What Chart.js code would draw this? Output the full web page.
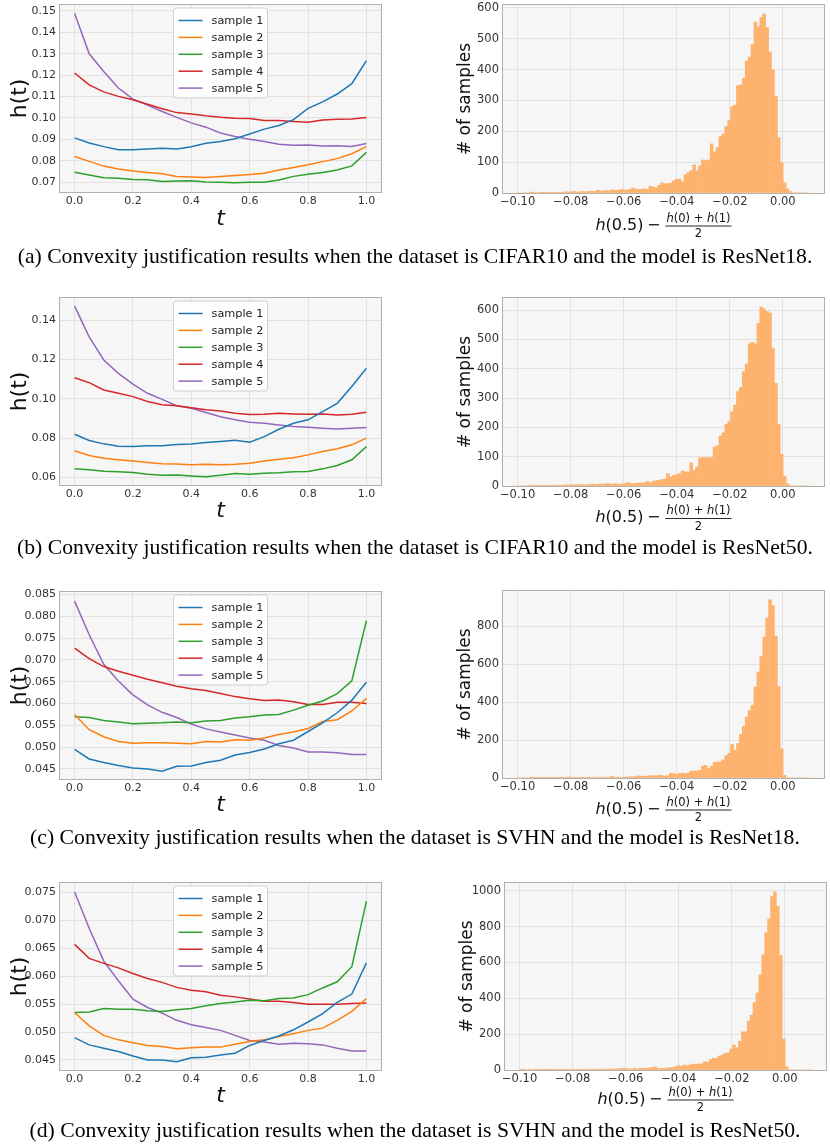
<!DOCTYPE html>
<html><head><meta charset="utf-8">
<script src="https://cdn.jsdelivr.net/npm/chart.js@4.4.1/dist/chart.umd.min.js"></script>
<style>
html,body{margin:0;padding:0;background:#fff;}
body{width:830px;height:1148px;position:relative;overflow:hidden;}
canvas{position:absolute;}
.cap{position:absolute;left:0;width:830px;text-align:center;font-family:"Liberation Serif",serif;color:#000;white-space:nowrap;line-height:1;}
</style></head><body>
<script>
// ---------------- DATA ----------------
const T_VALUES = [0,0.05,0.1,0.15,0.2,0.25,0.3,0.35,0.4,0.45,0.5,0.55,0.6,0.65,0.7,0.75,0.8,0.85,0.9,0.95,1.0];
const SAMPLE_NAMES = ['sample 1','sample 2','sample 3','sample 4','sample 5'];

// (a) CIFAR10 / ResNet18
const A_S1 = [0.0907,0.0883,0.0866,0.0852,0.0852,0.0855,0.0858,0.0855,0.0866,0.0882,0.0890,0.0903,0.0925,0.0948,0.0965,0.0992,0.1045,0.1075,0.1112,0.1160,0.1268];
const A_S2 = [0.0820,0.0797,0.0775,0.0762,0.0752,0.0745,0.0739,0.0727,0.0724,0.0722,0.0726,0.0731,0.0736,0.0742,0.0757,0.0769,0.0781,0.0796,0.0810,0.0833,0.0866];
const A_S3 = [0.0746,0.0733,0.0721,0.0718,0.0713,0.0711,0.0703,0.0705,0.0706,0.0701,0.0699,0.0697,0.0699,0.0700,0.0710,0.0727,0.0737,0.0745,0.0757,0.0776,0.0839];
const A_S4 = [0.1210,0.1155,0.1122,0.1101,0.1085,0.1064,0.1043,0.1025,0.1019,0.1010,0.1003,0.0999,0.0998,0.0988,0.0988,0.0984,0.0980,0.0991,0.0994,0.0995,0.1002];
const A_S5 = [0.1490,0.1300,0.1217,0.1140,0.1088,0.1060,0.1030,0.1003,0.0977,0.0957,0.0930,0.0913,0.0900,0.0890,0.0877,0.0873,0.0874,0.0869,0.0870,0.0867,0.0881];
// (b) CIFAR10 / ResNet50
const B_S1 = [0.0820,0.0788,0.0771,0.0759,0.0757,0.0762,0.0762,0.0768,0.0770,0.0778,0.0783,0.0789,0.0779,0.0808,0.0845,0.0876,0.0893,0.0935,0.0977,0.1062,0.1155];
const B_S2 = [0.0736,0.0712,0.0698,0.0690,0.0684,0.0676,0.0670,0.0669,0.0665,0.0668,0.0665,0.0668,0.0673,0.0684,0.0693,0.0701,0.0715,0.0732,0.0746,0.0766,0.0800];
const B_S3 = [0.0645,0.0640,0.0632,0.0629,0.0625,0.0617,0.0612,0.0613,0.0608,0.0604,0.0612,0.0620,0.0617,0.0622,0.0624,0.0629,0.0631,0.0644,0.0661,0.0690,0.0757];
const B_S4 = [0.1107,0.1082,0.1045,0.1028,0.1011,0.0986,0.0970,0.0965,0.0955,0.0944,0.0938,0.0926,0.0920,0.0921,0.0926,0.0923,0.0921,0.0923,0.0917,0.0921,0.0932];
const B_S5 = [0.1471,0.1315,0.1197,0.1129,0.1074,0.1028,0.0997,0.0965,0.0952,0.0930,0.0909,0.0893,0.0881,0.0876,0.0867,0.0859,0.0855,0.0850,0.0846,0.0850,0.0854];
// (c) SVHN / ResNet18
const C_S1 = [0.0495,0.0473,0.0465,0.0458,0.0452,0.0450,0.0445,0.0456,0.0457,0.0465,0.0470,0.0482,0.0488,0.0496,0.0508,0.0516,0.0536,0.0556,0.0579,0.0608,0.0649];
const C_S2 = [0.0575,0.0540,0.0524,0.0513,0.0509,0.0510,0.0510,0.0509,0.0508,0.0513,0.0512,0.0517,0.0516,0.0521,0.0529,0.0535,0.0543,0.0559,0.0563,0.0583,0.0612];
const C_S3 = [0.0570,0.0568,0.0561,0.0558,0.0554,0.0555,0.0556,0.0558,0.0556,0.0560,0.0561,0.0567,0.0570,0.0574,0.0575,0.0585,0.0596,0.0606,0.0623,0.0652,0.0790];
const C_S4 = [0.0727,0.0703,0.0685,0.0674,0.0665,0.0656,0.0648,0.0640,0.0634,0.0630,0.0623,0.0616,0.0611,0.0607,0.0608,0.0604,0.0598,0.0598,0.0603,0.0603,0.0600];
const C_S5 = [0.0835,0.0758,0.0690,0.0652,0.0620,0.0597,0.0580,0.0568,0.0553,0.0542,0.0535,0.0528,0.0521,0.0516,0.0504,0.0498,0.0489,0.0489,0.0487,0.0483,0.0483];
// (d) SVHN / ResNet50
const D_S1 = [0.0490,0.0477,0.0471,0.0465,0.0457,0.0450,0.0450,0.0447,0.0454,0.0455,0.0459,0.0462,0.0476,0.0485,0.0493,0.0504,0.0518,0.0533,0.0553,0.0568,0.0624];
const D_S2 = [0.0535,0.0511,0.0494,0.0486,0.0481,0.0476,0.0474,0.0470,0.0472,0.0473,0.0473,0.0478,0.0483,0.0486,0.0492,0.0497,0.0503,0.0507,0.0521,0.0537,0.0560];
const D_S3 = [0.0535,0.0536,0.0542,0.0541,0.0541,0.0538,0.0537,0.0540,0.0542,0.0547,0.0551,0.0554,0.0557,0.0556,0.0560,0.0561,0.0567,0.0579,0.0590,0.0617,0.0734];
const D_S4 = [0.0657,0.0632,0.0623,0.0615,0.0605,0.0596,0.0589,0.0580,0.0575,0.0572,0.0566,0.0563,0.0559,0.0555,0.0555,0.0553,0.0550,0.0550,0.0550,0.0551,0.0552];
const D_S5 = [0.0751,0.0686,0.0627,0.0592,0.0559,0.0544,0.0534,0.0521,0.0513,0.0508,0.0503,0.0494,0.0485,0.0482,0.0478,0.0480,0.0479,0.0477,0.0471,0.0466,0.0466];

// histogram bins: 100 bins over [-0.1, 0.01]
const HIST_BIN_START = -0.1;
const HIST_BIN_WIDTH = 0.0011;
const HIST_A = [0,0,0,0,1,3,0,1,1,1, 1,2,1,2,3,2,4,3,4,5, 3,4,5,4,5,6,5,9,6,7, 8,7,10,8,9,11,10,10,11,16,
  13,12,12,14,12,22,19,17,25,33, 30,30,32,39,44,45,36,59,66,73, 91,72,88,107,105,107,159,133,147,183,
  191,215,235,280,285,348,350,372,427,440, 481,554,538,568,580,536,457,399,313,179, 98,33,13,5,0,0,0,0,0,0];
const HIST_B = [0,0,0,0,2,1,1,2,2,1, 2,1,2,3,2,3,4,3,4,4, 5,4,5,4,5,6,5,6,7,6, 8,7,6,8,6,6,7,11,10,8,
  9,10,10,11,15,11,16,18,19,22, 23,42,31,36,39,42,51,48,48,79, 54,65,96,97,96,97,97,133,137,170,
  181,210,219,253,276,322,336,390,416,485, 490,485,555,610,604,595,590,470,350,210, 108,33,8,0,0,0,0,0,0,0];
const HIST_C = [0,0,0,0,1,2,1,1,2,1, 2,1,1,2,2,1,3,5,2,2, 3,2,3,3,2,3,4,3,4,3, 5,4,9,4,4,3,4,5,7,6,
  8,11,8,10,9,13,12,11,15,12, 11,12,25,23,18,23,26,22,26,36, 37,37,40,63,66,50,62,82,84,85,
  95,117,130,177,146,181,230,272,321,356, 382,479,558,640,742,844,939,909,746,482, 154,14,0,0,0,0,0,0,0,0];
const HIST_D = [2,1,0,1,0,1,1,2,1,1, 1,2,1,1,2,2,3,2,2,3, 2,3,4,3,3,4,5,4,4,5, 5,6,5,7,8,9,8,6,6,9,
  7,11,9,9,11,15,17,9,9,9, 11,13,13,18,24,20,28,24,28,33, 31,33,35,46,43,59,65,65,78,83,
  93,96,117,139,124,161,213,213,272,306, 376,430,531,643,765,843,967,994,913,639, 172,18,0,0,0,0,0,0,0,0];

// ticks
const LINE_X_TICKS = [0,0.2,0.4,0.6,0.8,1.0];
const LINE_X_LABELS = ['0.0','0.2','0.4','0.6','0.8','1.0'];
const A_Y_TICKS = [0.07,0.08,0.09,0.10,0.11,0.12,0.13,0.14,0.15];
const A_Y_LABELS = ['0.07','0.08','0.09','0.10','0.11','0.12','0.13','0.14','0.15'];
const B_Y_TICKS = [0.06,0.08,0.10,0.12,0.14];
const B_Y_LABELS = ['0.06','0.08','0.10','0.12','0.14'];
const C_Y_TICKS = [0.045,0.050,0.055,0.060,0.065,0.070,0.075,0.080,0.085];
const C_Y_LABELS = ['0.045','0.050','0.055','0.060','0.065','0.070','0.075','0.080','0.085'];
const D_Y_TICKS = [0.045,0.050,0.055,0.060,0.065,0.070,0.075];
const D_Y_LABELS = ['0.045','0.050','0.055','0.060','0.065','0.070','0.075'];
const HIST_X_TICKS = [-0.10,-0.08,-0.06,-0.04,-0.02,0.00];
const HIST_X_LABELS = ['\u22120.10','\u22120.08','\u22120.06','\u22120.04','\u22120.02','0.00'];
const HA_Y_TICKS = [0,100,200,300,400,500,600];
const HA_Y_LABELS = ['0','100','200','300','400','500','600'];
const HC_Y_TICKS = [0,200,400,600,800];
const HC_Y_LABELS = ['0','200','400','600','800'];
const HD_Y_TICKS = [0,200,400,600,800,1000];
const HD_Y_LABELS = ['0','200','400','600','800','1000'];

const CAPTIONS = [
  '(a) Convexity justification results when the dataset is CIFAR10 and the model is ResNet18.',
  '(b) Convexity justification results when the dataset is CIFAR10 and the model is ResNet50.',
  '(c) Convexity justification results when the dataset is SVHN and the model is ResNet18.',
  '(d) Convexity justification results when the dataset is SVHN and the model is ResNet50.'
];

// ---------------- STYLE ----------------
const LINE_COLORS = ['#1f77b4','#ff7f0e','#2ca02c','#d62728','#9467bd'];
const HIST_COLOR = '#fdb26e';
const BG = '#f6f6f6', GRID = '#e2e2e2', FRAME = '#b0b0b0', TICKC = '#333333', TITLEC = '#111111';
const FAM = '"DejaVu Sans"';
Chart.defaults.font.family = 'DejaVu Sans';

function place(cv, L, T, R, B, axisW, padTop, padR, axisH) {
  const w = axisW + (R - L) + padR, h = padTop + (B - T) + axisH;
  cv.width = w; cv.height = h; cv.style.width = w + 'px'; cv.style.height = h + 'px';
  cv.style.left = (L - axisW) + 'px'; cv.style.top = (T - padTop) + 'px';
}
function fixPos(chart, L, T) {
  const a = chart.chartArea;
  chart.canvas.style.left = (L - a.left) + 'px';
  chart.canvas.style.top = (T - a.top) + 'px';
}
function xScale(min, max, ticks, labels, size, h, pad) {
  return { type: 'linear', min, max, offset: false,
    afterBuildTicks: s => { s.ticks = ticks.map(v => ({ value: v })); },
    afterFit: s => { s.height = h; s.paddingLeft = 0; s.paddingRight = 0; },
    ticks: { autoSkip: false, maxRotation: 0, minRotation: 0, padding: pad, color: TICKC,
      font: { family: 'DejaVu Sans', size }, callback: (v, i) => labels[i] },
    grid: { color: GRID, lineWidth: 1, drawTicks: false, offset: false },
    border: { display: false } };
}
function yScale(min, max, ticks, labels, size, w, pad) {
  return { type: 'linear', min, max, beginAtZero: false,
    afterBuildTicks: s => { s.ticks = ticks.map(v => ({ value: v })); },
    afterFit: s => { s.width = w; s.paddingTop = 0; s.paddingBottom = 0; },
    ticks: { autoSkip: false, padding: pad, color: TICKC,
      font: { family: 'DejaVu Sans', size }, callback: (v, i) => labels[i] },
    grid: { color: GRID, lineWidth: 1, drawTicks: false },
    border: { display: false } };
}
const bgPlugin = { id: 'bgfill', beforeDraw(c) {
  const a = c.chartArea, ctx = c.ctx; ctx.save(); ctx.fillStyle = BG;
  ctx.fillRect(a.left, a.top, a.right - a.left, a.bottom - a.top); ctx.restore(); } };
function drawFrame(c) {
  const a = c.chartArea, ctx = c.ctx; ctx.save(); ctx.strokeStyle = FRAME; ctx.lineWidth = 1;
  ctx.strokeRect(Math.round(a.left) - 0.5, Math.round(a.top) - 0.5, Math.round(a.right - a.left) + 1, Math.round(a.bottom - a.top) + 1);
  ctx.restore();
}
function drawLegend(c) {
  const a = c.chartArea, ctx = c.ctx, ds = c.data.datasets;
  const w = 94, h = 90, cx = (a.left + a.right) / 2, x0 = cx - w / 2, y0 = a.top + 3, r = 3;
  ctx.save();
  ctx.beginPath();
  ctx.moveTo(x0 + r, y0); ctx.lineTo(x0 + w - r, y0); ctx.arcTo(x0 + w, y0, x0 + w, y0 + r, r);
  ctx.lineTo(x0 + w, y0 + h - r); ctx.arcTo(x0 + w, y0 + h, x0 + w - r, y0 + h, r);
  ctx.lineTo(x0 + r, y0 + h); ctx.arcTo(x0, y0 + h, x0, y0 + h - r, r);
  ctx.lineTo(x0, y0 + r); ctx.arcTo(x0, y0, x0 + r, y0, r); ctx.closePath();
  ctx.fillStyle = 'rgba(255,255,255,0.85)'; ctx.fill();
  ctx.strokeStyle = '#cfcfcf'; ctx.lineWidth = 1; ctx.stroke();
  ctx.font = '11.3px ' + FAM; ctx.textBaseline = 'middle'; ctx.textAlign = 'left';
  ds.forEach((d, i) => {
    const y = a.top + 15.5 + 16.9 * i;
    ctx.strokeStyle = d.borderColor; ctx.lineWidth = 1.5;
    ctx.beginPath(); ctx.moveTo(x0 + 5, y); ctx.lineTo(x0 + 29, y); ctx.stroke();
    ctx.fillStyle = '#222'; ctx.fillText(d.label, x0 + 38, y + 0.5);
  });
  ctx.restore();
}
function drawLineTitles(c, tDy) {
  const a = c.chartArea, ctx = c.ctx;
  ctx.save(); ctx.fillStyle = TITLEC;
  ctx.font = '22px ' + FAM; ctx.textAlign = 'center'; ctx.textBaseline = 'middle';
  ctx.translate(a.left - 40, (a.top + a.bottom) / 2); ctx.rotate(-Math.PI / 2);
  ctx.fillText('h(t)', 0, 0);
  ctx.restore();
  ctx.save(); ctx.fillStyle = TITLEC;
  ctx.font = 'italic 22px ' + FAM; ctx.textAlign = 'center'; ctx.textBaseline = 'alphabetic';
  ctx.fillText('t', (a.left + a.right) / 2, a.bottom + tDy + 8);
  ctx.restore();
}
function drawHistTitles(c, dy) {
  const a = c.chartArea, ctx = c.ctx;
  ctx.save(); ctx.fillStyle = TITLEC;
  ctx.font = '17px ' + FAM; ctx.textAlign = 'center'; ctx.textBaseline = 'middle';
  ctx.translate(a.left - 37.5, (a.top + a.bottom) / 2); ctx.rotate(-Math.PI / 2);
  ctx.fillText('# of samples', 0, 0);
  ctx.restore();
  // x label: h(0.5) − (h(0)+h(1))/2
  ctx.save(); ctx.fillStyle = TITLEC; ctx.strokeStyle = TITLEC; ctx.textBaseline = 'alphabetic'; ctx.textAlign = 'left';
  const M = 16, F = 11.5;
  const fi = s => 'italic ' + s + 'px ' + FAM, fr = s => s + 'px ' + FAM;
  const parts = (pp, size) => pp.map(([t, it]) => { ctx.font = it ? fi(size) : fr(size); return [t, it, ctx.measureText(t).width]; });
  const mainP = parts([['h', 1], ['(0.5)', 0]], M);
  ctx.font = fr(M); const wMinus = ctx.measureText('\u2212').width;
  const numP = parts([['h', 1], ['(0) + ', 0], ['h', 1], ['(1)', 0]], F);
  ctx.font = fr(F); const wDen = ctx.measureText('2').width;
  const wMain = mainP.reduce((s, p) => s + p[2], 0);
  const wNum = numP.reduce((s, p) => s + p[2], 0);
  const fracW = wNum + 2, g1 = 3.5, g2 = 5;
  const total = wMain + g1 + wMinus + g2 + fracW;
  let x = (a.left + a.right) / 2 - total / 2;
  const base = a.bottom + dy + 5;
  mainP.forEach(([t, it, w]) => { ctx.font = it ? fi(M) : fr(M); ctx.fillText(t, x, base); x += w; });
  x += g1; ctx.font = fr(M); ctx.fillText('\u2212', x, base); x += wMinus + g2;
  const bar = base - 3.5;
  ctx.lineWidth = 0.9; ctx.beginPath(); ctx.moveTo(x, bar); ctx.lineTo(x + fracW, bar); ctx.stroke();
  let xn = x + 1;
  numP.forEach(([t, it, w]) => { ctx.font = it ? fi(F) : fr(F); ctx.fillText(t, xn, bar - 4.3); xn += w; });
  ctx.font = fr(F); ctx.fillText('2', x + fracW / 2 - wDen / 2, bar + 11);
  ctx.restore();
}

function makeLine(p) {
  const [L, T, R, B] = p.rect;
  const cv = document.createElement('canvas'); document.body.appendChild(cv);
  const axisW = 60, padTop = 6, padR = 8, axisH = 40;
  place(cv, L, T, R, B, axisW, padTop, padR, axisH);
  const chart = new Chart(cv, {
    type: 'line',
    data: { datasets: p.series.map((s, i) => ({ label: SAMPLE_NAMES[i],
      data: T_VALUES.map((t, j) => ({ x: t, y: s[j] })),
      borderColor: LINE_COLORS[i], backgroundColor: LINE_COLORS[i], borderWidth: 1.5,
      pointRadius: 0, tension: 0, fill: false })) },
    options: { responsive: false, animation: false, events: [],
      layout: { padding: { top: padTop, right: padR, left: 0, bottom: 0 } },
      plugins: { legend: { display: false }, tooltip: { enabled: false } },
      scales: { x: xScale(-0.05, 1.05, LINE_X_TICKS, LINE_X_LABELS, 11, axisH, 3),
                y: yScale(p.yMin, p.yMax, p.yTicks, p.yLabels, 11, axisW, 4) } },
    plugins: [bgPlugin, { id: 'deco', afterDraw(c) { drawFrame(c); drawLegend(c); drawLineTitles(c, p.tDy); } }]
  });
  fixPos(chart, L, T);
}
function makeHist(p) {
  const [L, T, R, B] = p.rect;
  const cv = document.createElement('canvas'); document.body.appendChild(cv);
  const axisW = 60, padTop = 6, padR = 4, axisH = 55;
  place(cv, L, T, R, B, axisW, padTop, padR, axisH);
  const chart = new Chart(cv, {
    type: 'bar',
    data: { datasets: [{ label: 'hist',
      data: p.counts.map((c, k) => ({ x: HIST_BIN_START + (k + 0.5) * HIST_BIN_WIDTH, y: c })),
      backgroundColor: HIST_COLOR, borderWidth: 0, barPercentage: 1, categoryPercentage: 1 }] },
    options: { responsive: false, animation: false, events: [],
      layout: { padding: { top: padTop, right: padR, left: 0, bottom: 0 } },
      plugins: { legend: { display: false }, tooltip: { enabled: false } },
      scales: { x: xScale(-0.1055, 0.0155, HIST_X_TICKS, HIST_X_LABELS, 11.5, axisH, 2.5),
                y: yScale(0, p.yMax, p.yTicks, p.yLabels, 11.5, axisW, 4) } },
    plugins: [bgPlugin, { id: 'deco', afterDraw(c) { drawFrame(c); drawHistTitles(c, p.dy); } }]
  });
  fixPos(chart, L, T);
}

makeLine({ rect: [60, 5, 381, 192], series: [A_S1, A_S2, A_S3, A_S4, A_S5], yMin: 0.0654, yMax: 0.1528, yTicks: A_Y_TICKS, yLabels: A_Y_LABELS, tDy: 24.5 });
makeLine({ rect: [60, 298, 381, 485], series: [B_S1, B_S2, B_S3, B_S4, B_S5], yMin: 0.0562, yMax: 0.1512, yTicks: B_Y_TICKS, yLabels: B_Y_LABELS, tDy: 23.5 });
makeLine({ rect: [60, 592, 381, 779], series: [C_S1, C_S2, C_S3, C_S4, C_S5], yMin: 0.0427, yMax: 0.0856, yTicks: C_Y_TICKS, yLabels: C_Y_LABELS, tDy: 24 });
makeLine({ rect: [60, 883, 381, 1070], series: [D_S1, D_S2, D_S3, D_S4, D_S5], yMin: 0.0432, yMax: 0.0767, yTicks: D_Y_TICKS, yLabels: D_Y_LABELS, tDy: 23.5 });

makeHist({ rect: [503, 5, 824, 193], counts: HIST_A, yMax: 609, yTicks: HA_Y_TICKS, yLabels: HA_Y_LABELS, dy: 31.5 });
makeHist({ rect: [503, 298, 824, 486], counts: HIST_B, yMax: 641, yTicks: HA_Y_TICKS, yLabels: HA_Y_LABELS, dy: 31 });
makeHist({ rect: [503, 591, 824, 778], counts: HIST_C, yMax: 985, yTicks: HC_Y_TICKS, yLabels: HC_Y_LABELS, dy: 30.5 });
makeHist({ rect: [505, 883, 826, 1070], counts: HIST_D, yMax: 1043, yTicks: HD_Y_TICKS, yLabels: HD_Y_LABELS, dy: 28.5 });

// captions
(function () {
  const m = document.createElement('canvas').getContext('2d');
  m.font = '20px "Liberation Serif"';
  const size = 20 * 795 / m.measureText(CAPTIONS[0]).width;
  const centers = [257, 548, 838, 1131];
  CAPTIONS.forEach((t, i) => {
    const d = document.createElement('div'); d.className = 'cap'; d.textContent = t;
    d.style.fontSize = size + 'px'; d.style.top = (centers[i] - 0.51 * size) + 'px';
    document.body.appendChild(d);
  });
})();
</script>
</body></html>
